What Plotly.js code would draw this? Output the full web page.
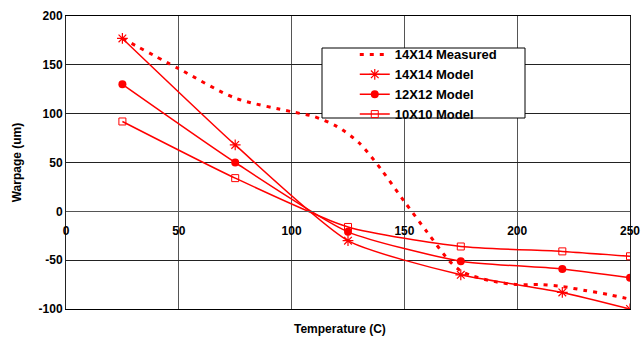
<!DOCTYPE html>
<html>
<head>
<meta charset="utf-8">
<script src="https://cdn.plot.ly/plotly-3.0.1.min.js"></script>
<style>
html,body{margin:0;padding:0;background:#fff;}
#chart{width:641px;height:337px;}
</style>
</head>
<body>
<div id="chart"></div>
<script>
// Data
var measuredTemp = [25, 50, 75, 100, 110, 120, 130, 140, 150, 160, 170, 175, 180, 190, 200, 210, 220, 230, 240, 250];
var measuredWarp = [177, 146, 116, 102, 97, 87, 70, 42, 10, -21, -51, -61, -66, -72, -75, -75, -77, -81, -85, -90];

var modelTemp = [25, 75, 125, 175, 220, 250];
var model14 = [177, 68, -30, -65, -83, -100];
var model12 = [130, 50, -21, -51, -59, -68];
var model10 = [92, 34, -16, -36, -41, -46];

var seriesNames = ["14X14 Measured", "14X14 Model", "12X12 Model", "10X10 Model"];
var xTicks = [0, 50, 100, 150, 200, 250];
var yTicks = [-100, -50, 0, 50, 100, 150, 200];

var red = "#ff0000";
var fam = "Liberation Sans, Arial, sans-serif";

var traces = [
  {x: measuredTemp, y: measuredWarp, name: seriesNames[0], mode: "lines",
   line: {color: red, width: 3, dash: "4px,6px", shape: "spline", smoothing: 0.8}},
  {x: modelTemp, y: model14, name: seriesNames[1], mode: "lines+markers",
   line: {color: red, width: 1.5, shape: "spline", smoothing: 0.6},
   marker: {symbol: "asterisk-open", size: 9, color: red, line: {color: red, width: 1.2}}},
  {x: modelTemp, y: model12, name: seriesNames[2], mode: "lines+markers",
   line: {color: red, width: 1.5, shape: "spline", smoothing: 0.6},
   marker: {symbol: "circle", size: 8, color: red}},
  {x: modelTemp, y: model10, name: seriesNames[3], mode: "lines+markers",
   line: {color: red, width: 1.5, shape: "spline", smoothing: 0.6},
   marker: {symbol: "square-open", size: 7, color: red, line: {color: red, width: 1}}}
];

var layout = {
  width: 641, height: 337,
  margin: {l: 66, r: 11, t: 16, b: 28, pad: 0},
  paper_bgcolor: "#fff", plot_bgcolor: "#fff",
  font: {family: fam, size: 12, color: "#000"},
  showlegend: true,
  xaxis: {
    range: [0, 250], tickvals: xTicks, ticktext: xTicks.map(String),
    anchor: "free", position: 1/3,
    showgrid: true, gridcolor: "#555", gridwidth: 1,
    zeroline: false, showline: true, linecolor: "#555", linewidth: 1,
    ticks: "", ticklabelstandoff: 8,
    tickfont: {family: fam, size: 12, color: "#000", weight: "bold"},
    fixedrange: true
  },
  xaxis2: {
    range: [0, 250], overlaying: "x", anchor: "y", side: "bottom",
    showgrid: false, showticklabels: false, showline: true, mirror: true,
    linecolor: "#000", linewidth: 1, zeroline: false
  },
  yaxis: {
    range: [-100, 200], tickvals: yTicks, ticktext: yTicks.map(String),
    showgrid: true, gridcolor: "#222", gridwidth: 1,
    zeroline: false, showline: true, mirror: true, linecolor: "#222", linewidth: 1,
    ticks: "", ticklen: 0, tickfont: {family: fam, size: 12, color: "#000", weight: "bold"},
    title: {text: "Warpage (um)", font: {family: fam, size: 12, color: "#000", weight: "bold"}, standoff: 14},
    fixedrange: true
  },
  legend: {
    x: 0.512, y: 0.92, xanchor: "left", yanchor: "top",
    bgcolor: "rgba(0,0,0,0)", borderwidth: 0,
    font: {family: fam, size: 13, color: "#000", weight: "bold"},
    itemwidth: 30
  },
  shapes: [
    {type: "rect", xref: "paper", yref: "paper", layer: "above",
     x0: (322 - 66) / 564, x1: (525 - 66) / 564,
     y0: (309 - 118) / 293, y1: (309 - 48) / 293,
     fillcolor: "#fff", line: {color: "#000", width: 1}}
  ],
  annotations: [
    {text: "<b>Temperature (C)</b>", xref: "paper", yref: "paper",
     x: (340 - 66) / 564, y: (309 - 329) / 293, xanchor: "center", yanchor: "middle",
     showarrow: false, font: {family: fam, size: 12, color: "#000"}}
  ]
};

// invisible trace on xaxis2 to draw the outer frame
traces.push({x: [0], y: [0], xaxis: "x2", mode: "markers", marker: {opacity: 0}, showlegend: false, hoverinfo: "skip"});

Plotly.newPlot("chart", traces, layout, {displayModeBar: false, staticPlot: true});
</script>
</body>
</html>
